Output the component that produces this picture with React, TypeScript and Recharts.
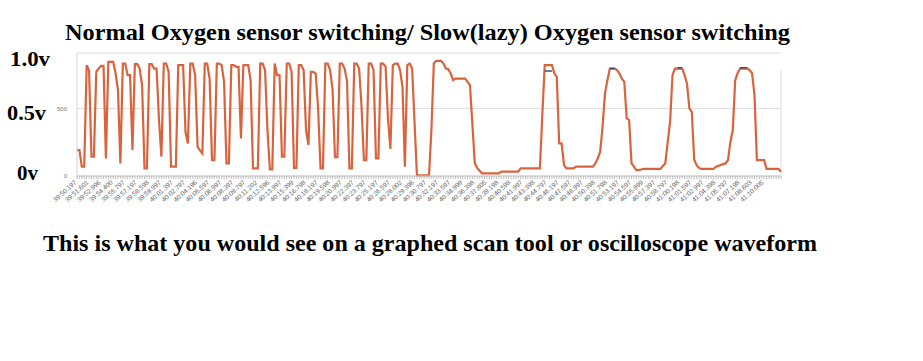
import { LineChart, Line, XAxis, YAxis, CartesianGrid, ReferenceLine } from 'recharts'

// sensor output (mV), one sample per axis tick
const VOLTAGE = [
  192, 192, 69, 69, 820, 783, 143, 143, 771, 795,
  815, 815, 130, 845, 845, 845, 760, 635, 93, 832,
  832, 746, 746, 192, 827, 827, 795, 670, 57, 57,
  827, 827, 795, 795, 420, 143, 832, 832, 771, 69,
  69, 69, 820, 820, 820, 327, 241, 832, 832, 746,
  216, 190, 167, 832, 832, 721, 118, 118, 832, 832,
  820, 697, 93, 93, 820, 820, 808, 808, 278, 820,
  820, 820, 709, 57, 57, 57, 832, 832, 783, 340,
  49, 49, 832, 746, 746, 143, 143, 832, 832, 771,
  60, 60, 820, 820, 783, 340, 229, 770, 770, 758,
  500, 57, 57, 832, 832, 783, 640, 140, 140, 832,
  832, 795, 700, 57, 57, 832, 832, 795, 520, 118,
  118, 832, 832, 783, 130, 130, 832, 832, 808, 420,
  200, 820, 832, 832, 783, 660, 69, 820, 832, 795,
  400, 5, 5, 5, 5, 5, 5, 340, 832, 852,
  852, 852, 832, 795, 790, 758, 709, 721, 721, 721,
  721, 721, 697, 672, 380, 93, 60, 39, 20, 20,
  20, 20, 20, 20, 20, 20, 32, 32, 32, 32,
  32, 32, 32, 32, 57, 57, 57, 57, 57, 57,
  57, 57, 57, 450, 820, 820, 820, 820, 758, 734,
  241, 241, 81, 57, 57, 57, 57, 69, 69, 69,
  69, 69, 69, 69, 69, 93, 130, 180, 365, 611,
  709, 795, 795, 795, 783, 758, 720, 697, 426, 414,
  93, 69, 44, 44, 48, 52, 52, 52, 52, 52,
  52, 52, 52, 75, 93, 250, 400, 746, 795, 795,
  795, 795, 746, 684, 500, 475, 120, 80, 60, 52,
  52, 52, 52, 52, 52, 69, 75, 81, 88, 93,
  118, 250, 340, 709, 760, 795, 795, 795, 795, 783,
  760, 600, 118, 118, 118, 118, 52, 52, 52, 52,
  52, 52, 32,
]

// short dark "hold" marks drawn on some lazy peaks
const HOLD_MARKS: [number, number][] = [
  [194, 776], [195, 776], [196, 776], [197, 776],
  [221, 795], [222, 795], [223, 795],
  [249, 800], [250, 800], [251, 800],
  [275, 800], [276, 800], [277, 800], [278, 800],
]

// one time label every 5 samples
const TICK_LABELS = [
  '39:50.197', '39:51.601', '39:52.996', '39:54.400', '39:55.797', '39:57.197',
  '39:58.598', '39:59.997', '40:01.397', '40:02.797', '40:04.196', '40:05.597',
  '40:06.997', '40:08.397', '40:09.797', '40:11.202', '40:12.596', '40:13.997',
  '40:15.399', '40:16.798', '40:18.197', '40:19.598', '40:20.997', '40:22.397',
  '40:23.797', '40:25.197', '40:26.597', '40:28.002', '40:29.396', '40:30.797',
  '40:32.197', '40:33.597', '40:34.999', '40:36.398', '40:37.805', '40:39.198',
  '40:40.598', '40:41.997', '40:43.398', '40:44.797', '40:46.197', '40:47.597',
  '40:48.997', '40:50.398', '40:51.798', '40:53.197', '40:54.597', '40:55.999',
  '40:57.397', '40:58.797', '41:00.198', '41:01.597', '41:02.997', '41:04.398',
  '41:05.797', '41:07.198', '41:08.603', '41:10.005',
]

const LABEL_EVERY = 5
const Y_TICKS = [0, 500]

const holdByIndex = new Map(HOLD_MARKS)
const data = VOLTAGE.map((v, i) => ({ i, v, hold: holdByIndex.get(i) ?? null }))
const lastIndex = VOLTAGE.length - 1

function TimeTick(props: any) {
  const { x, y, payload } = props
  const idx = payload.value as number
  const label = idx % LABEL_EVERY === 0 ? TICK_LABELS[idx / LABEL_EVERY] : undefined
  if (!label) return <g />
  return (
    <text
      transform={`translate(${x},${y + 2}) rotate(-42)`}
      textAnchor="end"
      fontSize={6.5}
      fill="#666"
      fontFamily="Arial, 'Liberation Sans', sans-serif"
    >
      {label}
    </text>
  )
}

const serif = "'Liberation Serif', 'Times New Roman', serif"

export default function App() {
  return (
    <div style={{ position: 'absolute', left: 0, top: 0, width: 923, height: 361, background: '#fff' }}>
      <LineChart
        width={923}
        height={240}
        data={data}
        margin={{ top: 53, right: 142, bottom: 0, left: 0 }}
      >
        <CartesianGrid vertical={false} stroke="#dcdcdc" />
        <XAxis
          dataKey="i"
          interval={0}
          height={64}
          tick={<TimeTick />}
          tickSize={3}
          tickLine={{ stroke: '#c0c0c0' }}
          axisLine={{ stroke: '#c8c8c8' }}
        />
        <YAxis
          width={77}
          domain={[0, 910]}
          ticks={Y_TICKS}
          tickLine={false}
          axisLine={{ stroke: '#d0d0d0' }}
          tick={{ fontSize: 6, fill: '#777', fontFamily: 'Arial, sans-serif' }}
          tickMargin={4}
        />
        <ReferenceLine
          segment={[{ x: lastIndex, y: 0 }, { x: lastIndex, y: 783 }]}
          stroke="#dcdcdc"
        />
        <Line
          type="linear"
          dataKey="v"
          stroke="#d9633d"
          strokeWidth={2.2}
          dot={false}
          isAnimationActive={false}
        />
        <Line
          type="linear"
          dataKey="hold"
          stroke="#3f4d70"
          strokeWidth={1.5}
          dot={false}
          connectNulls={false}
          isAnimationActive={false}
        />
      </LineChart>
      <svg
        width={923}
        height={361}
        style={{ position: 'absolute', left: 0, top: 0, pointerEvents: 'none' }}
      >
        <g fontFamily={serif} fontWeight="bold" fill="#000">
          <text x={65} y={40} fontSize={23} textLength={725} lengthAdjust="spacingAndGlyphs">
            Normal Oxygen sensor switching/ Slow(lazy) Oxygen sensor switching
          </text>
          <text x={10} y={66} fontSize={21} textLength={40} lengthAdjust="spacingAndGlyphs">1.0v</text>
          <text x={7} y={120} fontSize={21} textLength={39} lengthAdjust="spacingAndGlyphs">0.5v</text>
          <text x={17} y={180} fontSize={21} textLength={21} lengthAdjust="spacingAndGlyphs">0v</text>
          <text x={43} y={251} fontSize={23} textLength={774} lengthAdjust="spacingAndGlyphs">
            This is what you would see on a graphed scan tool or oscilloscope waveform
          </text>
        </g>
      </svg>
    </div>
  )
}
